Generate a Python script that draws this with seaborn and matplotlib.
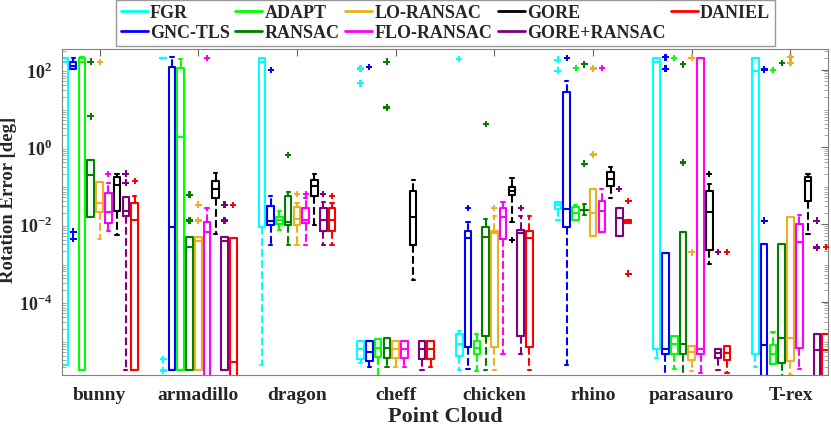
import matplotlib
matplotlib.use("Agg")
import matplotlib.pyplot as plt
from matplotlib.lines import Line2D
from matplotlib.ticker import LogLocator, FixedLocator, NullFormatter
import seaborn as sns
import pandas as pd

# categories / series
clouds = ["bunny", "armadillo", "dragon", "cheff", "chicken", "rhino", "parasauro", "T-rex"]
methods = ["FGR", "GNC-TLS", "ADAPT", "RANSAC", "LO-RANSAC",
           "FLO-RANSAC", "GORE", "GORE+RANSAC", "DANIEL"]
colors = ["#00ffff", "#0000ff", "#00ff00", "#008000", "#edb120",
          "#ff00ff", "#000000", "#800080", "#ff0000"]

# box stats per cloud, log10(deg): (whisker low, q1, median, q3, whisker high)
fgr = [(-5.64, -5.64, 2.2, 2.29, 2.29), (2.29, 2.29, 2.29, 2.29, 2.29),
       (-5.64, -2.08, 2.2, 2.29, 2.29), (-5.6, -5.48, -5.22, -5.01, -5.01),
       (-5.78, -5.4, -5.1, -4.83, -4.75), (-1.9, -1.6, -1.5, -1.43, -1.43),
       (-5.45, -5.24, 2.2, 2.29, 2.29), (-5.7, -5.35, 1.95, 2.29, 2.29)]
gnc_tls = [(2.01, 2.01, 2.1, 2.19, 2.3), (-5.78, -5.78, -2.08, 2.06, 2.32),
           (-2.55, -2.03, -1.91, -1.54, -1.26), (-5.68, -5.53, -5.3, -5.01, -5.01),
           (-5.75, -5.18, -2.36, -2.17, -1.95), (-5.63, -2.08, -1.6, 1.43, 1.71),
           (-6.0, -5.35, -5.24, -2.75, -2.75), (-6.0, -6.0, -5.12, -2.5, -2.5)]
adapt = [(-5.78, -5.78, 2.2, 2.29, 2.33), (-5.78, -5.78, 0.26, 2.03, 2.26),
         (-2.14, -1.99, -1.9, -1.82, -1.66), (-6.2, -5.44, -5.2, -4.97, -4.97),
         (-5.8, -5.35, -5.2, -5.03, -4.85), (-1.9, -1.9, -1.7, -1.56, -1.5),
         (-5.75, -5.35, -5.1, -4.9, -4.9), (-5.62, -5.62, -5.35, -5.12, -4.8)]
ransac = [(-1.82, -1.82, -0.73, -0.33, -0.33), (-5.78, -5.78, -2.59, -2.34, -2.34),
          (-2.55, -2.02, -1.95, -1.26, -1.16), (-5.68, -5.45, -5.2, -4.95, -4.95),
          (-5.78, -4.88, -2.33, -2.06, -1.86), (-1.76, -1.62, -1.62, -1.62, -1.48),
          (-6.0, -5.35, -5.1, -2.21, -2.21), (-6.0, -5.6, -4.94, -2.5, -2.5)]
lo_ransac = [(-2.38, -1.69, -1.45, -0.9, -0.9), (-5.78, -5.78, -2.43, -2.34, -2.34),
             (-2.55, -2.02, -1.86, -1.55, -1.45), (-5.68, -5.45, -5.22, -5.01, -5.01),
             (-5.78, -5.18, -2.24, -2.17, -1.8), (-2.31, -2.31, -1.7, -1.09, -1.09),
             (-5.8, -5.5, -5.3, -5.15, -5.15), (-5.9, -5.55, -4.94, -1.82, -1.82)]
flo_ransac = [(-2.17, -1.97, -1.69, -1.2, -0.93), (-6.2, -6.2, -2.21, -1.93, -1.59),
              (-2.55, -1.97, -1.89, -1.59, -1.32), (-5.68, -5.45, -5.22, -5.01, -5.01),
              (-5.35, -2.38, -1.82, -1.59, -1.43), (-2.21, -2.21, -1.65, -1.39, -1.09),
              (-5.85, -5.35, -5.24, 2.29, 2.29), (-5.75, -5.2, -2.45, -1.99, -1.77)]
gore = [(-2.29, -1.67, -0.98, -0.79, -0.7), (-2.25, -1.33, -1.09, -0.87, -0.67),
        (-2.02, -1.26, -1.02, -0.85, -0.7), (-3.43, -2.55, -1.82, -1.14, -0.85),
        (-1.93, -1.24, -1.14, -1.04, -0.81), (-1.33, -1.02, -0.84, -0.66, -0.53),
        (-3.03, -2.66, -1.69, -1.13, -0.95), (-2.25, -1.41, -0.89, -0.79, -0.7)]
gore_ransac = [(-5.78, -1.8, -1.65, -1.29, -1.29), (-5.78, -5.78, -2.44, -2.34, -2.34),
               (-2.55, -2.18, -1.89, -1.59, -1.42), (-5.78, -5.48, -5.22, -5.02, -5.02),
               (-5.35, -4.88, -2.24, -2.15, -1.8), (-2.31, -2.31, -1.85, -1.58, -1.58),
               (-5.78, -5.45, -5.32, -5.22, -5.22), (-6.2, -6.2, -5.25, -4.83, -4.83)]
daniel = [(-5.78, -5.78, -1.89, -1.46, -1.26), (-6.2, -6.2, -5.57, -2.36, -2.36),
          (-2.55, -2.18, -1.89, -1.59, -1.45), (-5.68, -5.48, -5.22, -5.02, -5.02),
          (-5.78, -5.18, -2.36, -2.17, -1.8), (-1.98, -1.96, -1.93, -1.9, -1.9),
          (-5.85, -5.5, -5.32, -5.15, -5.15), (-6.2, -6.2, -5.25, -4.83, -4.83)]

# outliers per cloud, log10(deg)
fgr_out = [[], [-5.49, -5.78], [], [2.03, 1.65], [2.26], [2.25, 1.97], [], []]
gnc_tls_out = [[-2.2, -2.38], [], [2.0], [2.06], [-1.58], [2.3], [2.32, 2.02], [2.0, -1.91]]
adapt_out = [[], [], [], [], [], [2.03], [2.3], [2.0]]
ransac_out = [[2.2, 0.79], [-1.24, -1.9], [-0.2], [2.2, 1.02], [0.6], [2.14, -0.44],
              [2.14, -0.4], [2.17]]
lo_ransac_out = [[2.2], [-1.5, -1.9], [-1.21], [], [-1.58], [-0.2, 2.03], [2.3, -2.72],
                 [2.32, 2.17]]
flo_ransac_out = [[-0.7], [2.29], [-1.21], [], [], [2.03], [], []]
gore_out = [[], [], [], [], [-2.42], [], [-0.7], []]
gore_ransac_out = [[-0.7, -0.93], [-1.5, -1.9], [-1.21], [], [-1.58], [-1.09], [-2.72],
                   [-1.91, -2.6]]
daniel_out = [[-0.89], [-1.5], [-1.26], [], [], [-1.4, -3.28], [-2.72], [-2.59]]

stats = dict(zip(methods, [fgr, gnc_tls, adapt, ransac, lo_ransac,
                           flo_ransac, gore, gore_ransac, daniel]))
outs = dict(zip(methods, [fgr_out, gnc_tls_out, adapt_out, ransac_out, lo_ransac_out,
                          flo_ransac_out, gore_out, gore_ransac_out, daniel_out]))

rows, out_rows = [], []
for m in methods:
    for c, st, ol in zip(clouds, stats[m], outs[m]):
        for v in st:
            rows.append((c, m, 10 ** v))
        for v in ol:
            out_rows.append((c, m, 10 ** v))
df = pd.DataFrame(rows, columns=["cloud", "method", "err"])
df_out = pd.DataFrame(out_rows, columns=["cloud", "method", "err"])

sns.set_style("white")
plt.rcParams["font.family"] = ["Liberation Serif", "DejaVu Serif"]
plt.rcParams["font.weight"] = "bold"
plt.rcParams["mathtext.fontset"] = "custom"
plt.rcParams["mathtext.rm"] = "Liberation Serif:bold"
plt.rcParams["mathtext.bf"] = "Liberation Serif:bold"

fig = plt.figure(figsize=(8.31, 4.31), dpi=100)
ax = fig.add_axes([62 / 831, 1 - 376 / 431, 766 / 831, 326 / 431])

sns.boxplot(data=df, x="cloud", y="err", hue="method", order=clouds, hue_order=methods,
            palette=colors, fill=False, saturation=1, width=0.8, gap=0.25,
            whis=(0, 100), linewidth=1.5, log_scale=True, legend=False,
            showfliers=False, whiskerprops={"linestyle": "--"}, ax=ax)
sns.stripplot(data=df_out, x="cloud", y="err", hue="method", order=clouds,
              hue_order=methods, palette=colors, dodge=True, jitter=False,
              marker="P", size=5, linewidth=0, legend=False, ax=ax)

ax.set_yscale("log")
ax.set_xlim(-0.38, 7.38)
ax.set_ylim(1.26e-6, 3.4e2)
ax.yaxis.set_major_locator(FixedLocator([1e-4, 1e-2, 1e0, 1e2]))
ax.set_yticklabels([r"$10^{-4}$", r"$10^{-2}$", r"$10^{0}$", r"$10^{2}$"], fontsize=13)
ax.yaxis.set_minor_locator(LogLocator(base=10, subs=range(2, 10), numticks=30))
ax.yaxis.set_minor_formatter(NullFormatter())
ax.set_xticks(range(len(clouds)))
ax.set_xticklabels(clouds, fontsize=14, fontweight="bold")
ax.tick_params(axis="x", direction="in", top=True, length=5, color="0.4", pad=8)
ax.tick_params(axis="y", direction="in", right=True, length=5, color="0.4", pad=7)
ax.tick_params(which="minor", direction="in", left=True, right=True, length=3, color="0.6")
for s in ax.spines.values():
    s.set_visible(True)
    s.set_color("0.5")
    s.set_linewidth(0.8)

ax.set_xlabel("Point Cloud", fontsize=16, fontweight="bold", labelpad=2)
ax.set_ylabel("Rotation Error [deg]", fontsize=13.5, fontweight="bold")
ax.yaxis.set_label_coords(-0.059, 0.54)

handles = [Line2D([0], [0], color=c, lw=2) for c in colors]
fig.legend(handles, methods, loc="upper center", bbox_to_anchor=(0.536, 0.998), ncol=5,
           frameon=True, fancybox=False, edgecolor="0.6", framealpha=1,
           prop={"weight": "bold", "size": 13}, handlelength=1.5, handletextpad=0.12,
           columnspacing=0.3, borderpad=0.25, labelspacing=0.15, borderaxespad=0)

fig.savefig("out.png", dpi=100)
